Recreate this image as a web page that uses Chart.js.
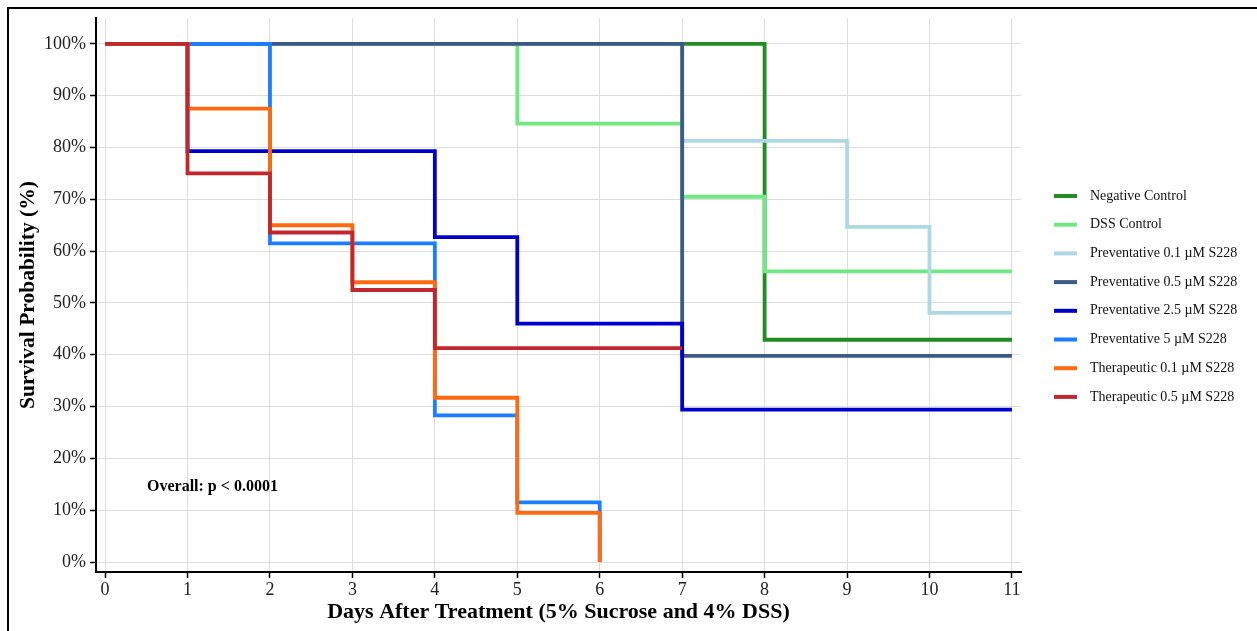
<!DOCTYPE html>
<html>
<head>
<meta charset="utf-8">
<script src="https://cdn.jsdelivr.net/npm/chart.js@4.4.1/dist/chart.umd.min.js"></script>
<style>
  html, body { margin: 0; padding: 0; background: #fff; }
  #wrap { width: 1257px; height: 631px; position: relative; }
</style>
</head>
<body>
<div id="wrap"><canvas id="myChart" width="1257" height="631"></canvas></div>
<script>
// survival curves (day, survival %)
const negDays = [0, 8, 11];
const negSurv = [100, 42.9, 42.9];
const dssDays = [0, 5, 7, 8, 11];
const dssSurv = [100, 84.6, 70.5, 56.1, 56.1];
const p01Days = [0, 7, 9, 10, 11];
const p01Surv = [100, 81.3, 64.7, 48.1, 48.1];
const p05Days = [0, 7, 11];
const p05Surv = [100, 39.8, 39.8];
const p25Days = [0, 1, 4, 5, 7, 11];
const p25Surv = [100, 79.3, 62.7, 46, 29.4, 29.4];
const p5Days = [0, 2, 4, 5, 6];
const p5Surv = [100, 61.5, 28.3, 11.5, 0];
const t01Days = [0, 1, 2, 3, 4, 5, 6];
const t01Surv = [100, 87.5, 65, 54, 31.7, 9.5, 0];
const t05Days = [0, 1, 2, 3, 4, 7];
const t05Surv = [100, 75, 63.6, 52.5, 41.3, 41.3];

const groups = [
  "Negative Control",
  "DSS Control",
  "Preventative 0.1 \u00b5M S228",
  "Preventative 0.5 \u00b5M S228",
  "Preventative 2.5 \u00b5M S228",
  "Preventative 5 \u00b5M S228",
  "Therapeutic 0.1 \u00b5M S228",
  "Therapeutic 0.5 \u00b5M S228",
];
const colors = ["#228B22", "#72E882", "#ADD8E6", "#3B5A87", "#0000CD", "#1A7EFF", "#FF6A0E", "#C2272D"];
const xTicks = [0, 1, 2, 3, 4, 5, 6, 7, 8, 9, 10, 11];
const yTicks = [0, 10, 20, 30, 40, 50, 60, 70, 80, 90, 100];

const allDays = [negDays, dssDays, p01Days, p05Days, p25Days, p5Days, t01Days, t05Days];
const allSurv = [negSurv, dssSurv, p01Surv, p05Surv, p25Surv, p5Surv, t01Surv, t05Surv];

const serif = "'Liberation Serif', 'Times New Roman', serif";

// later groups sit on top, like the original plot
const datasets = groups.map((g, i) => ({
  label: g,
  data: allDays[i].map((d, j) => ({ x: d, y: allSurv[i][j] })),
  borderColor: colors[i],
  backgroundColor: colors[i],
  borderWidth: 3.8,
  stepped: "before",
  pointRadius: 0,
  fill: false,
  order: groups.length - i,
}));

// outer frame, p-value text and legend
const extras = {
  id: "extras",
  afterDraw(chart) {
    const c = chart.ctx;
    c.save();
    c.strokeStyle = "#000";
    c.lineWidth = 2;
    c.beginPath();
    c.moveTo(8, 631);
    c.lineTo(8, 8);
    c.lineTo(1257, 8);
    c.stroke();

    c.fillStyle = "#000";
    c.font = "bold 16px " + serif;
    c.textBaseline = "middle";
    c.textAlign = "left";
    c.fillText("Overall: p < 0.0001", 147, 487);

    c.font = "14px " + serif;
    groups.forEach((g, i) => {
      const y = 196 + i * 28.7;
      c.fillStyle = colors[i];
      c.fillRect(1054, y - 2, 23, 4);
      c.fillStyle = "#111";
      c.fillText(g, 1090, y);
    });
    c.restore();
  },
};

const ctx = document.getElementById("myChart");

new Chart(ctx, {
  type: "line",
  data: { datasets: datasets },
  plugins: [extras],
  options: {
    responsive: false,
    animation: false,
    layout: { padding: { left: 0, top: 18, right: 236, bottom: 0 } },
    plugins: { legend: { display: false }, tooltip: { enabled: false } },
    scales: {
      x: {
        type: "linear",
        min: -0.11,
        max: 11.11,
        afterBuildTicks: (s) => { s.ticks = xTicks.map((v) => ({ value: v })); },
        afterFit: (s) => { s.height = 59; },
        grid: { color: "#dedede", lineWidth: 1, tickColor: "#000", tickLength: 6, tickWidth: 1.5 },
        border: { color: "#000", width: 2 },
        ticks: { color: "#222", font: { family: serif, size: 18 }, padding: 1, maxRotation: 0 },
        title: {
          display: true,
          text: "Days After Treatment (5% Sucrose and 4% DSS)",
          color: "#000",
          font: { family: serif, size: 22, weight: "bold" },
          padding: { top: 0, bottom: 5 },
        },
      },
      y: {
        min: -1.93,
        max: 105,
        afterBuildTicks: (s) => { s.ticks = yTicks.map((v) => ({ value: v })); },
        afterFit: (s) => { s.width = 96; },
        grid: { color: "#dedede", lineWidth: 1, tickColor: "#000", tickLength: 6, tickWidth: 1.5 },
        border: { color: "#000", width: 2 },
        ticks: {
          color: "#222",
          font: { family: serif, size: 18 },
          padding: 4,
          callback: (v) => v + "%",
        },
        title: {
          display: true,
          text: "Survival Probability (%)",
          color: "#000",
          font: { family: serif, size: 21.5, weight: "bold" },
          padding: { top: 16, bottom: 0 },
        },
      },
    },
  },
});
</script>
</body>
</html>
